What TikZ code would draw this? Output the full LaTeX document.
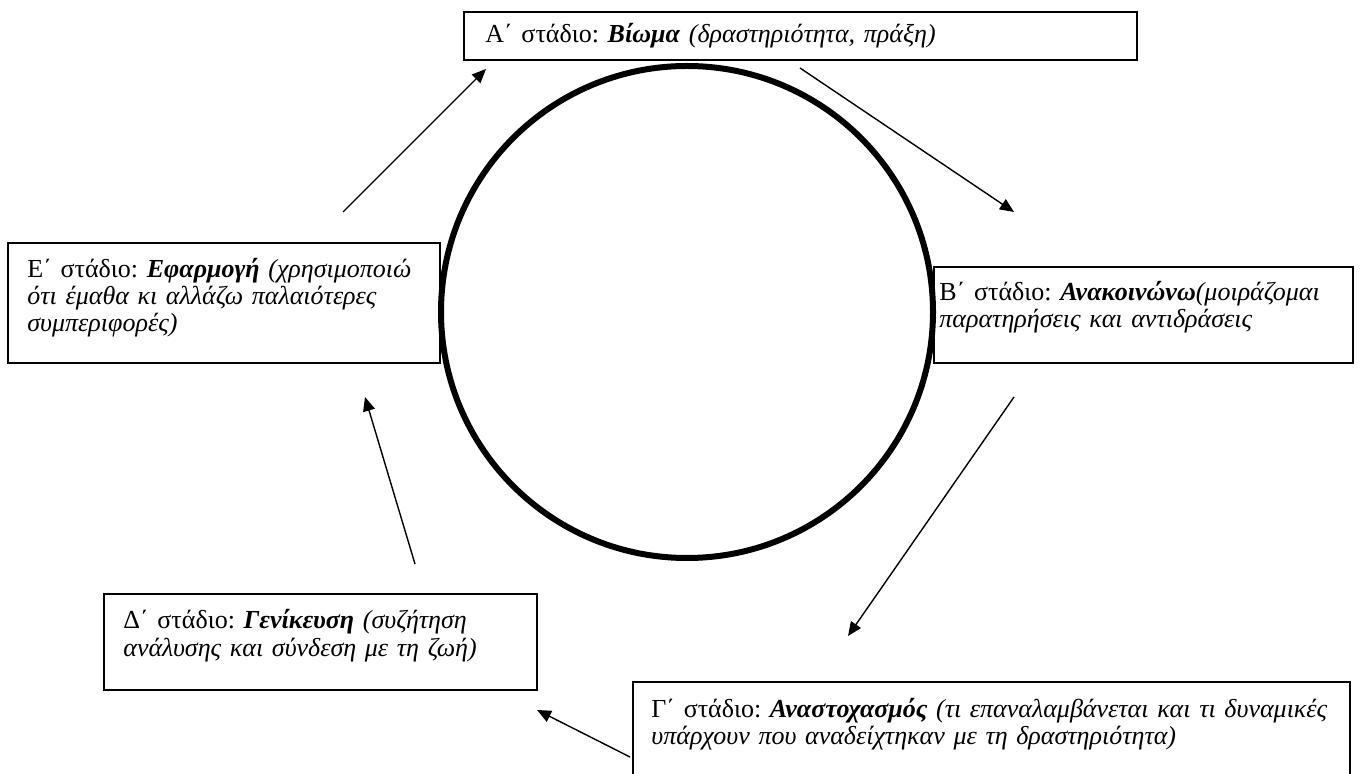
\documentclass[tikz,border=0pt]{standalone}
\usepackage{fontspec}
\setmainfont{Liberation Serif}
\usetikzlibrary{arrows.meta}
\frenchspacing
\begin{document}
\begin{tikzpicture}[x=0.5pt,y=-0.5pt,>={Triangle[length=7pt,width=6pt]},
  stagebox/.style={draw,line width=1pt,anchor=north west,inner sep=0pt},
  stagetxt/.style={anchor=base west,inner sep=0pt,text width=400pt,align=left,font=\fontsize{13}{13.5}\selectfont},
  flow/.style={->,line width=0.7pt}]
\path[use as bounding box,clip] (0,0) rectangle (1360,774);
% stage boxes
\node[stagebox,minimum width=336.5pt,minimum height=24pt] (boxA) at (463,11) {};
\node[stagebox,minimum width=209.5pt,minimum height=48pt] (boxB) at (933,266) {};
\node[stagebox,minimum width=358.5pt,minimum height=60pt] (boxC) at (632,681) {};
\node[stagebox,minimum width=216.5pt,minimum height=48pt] (boxD) at (103,593) {};
\node[stagebox,minimum width=216pt,minimum height=60pt] (boxE) at (7,242) {};
% stage texts
\node[stagetxt] (txtA) at (485,43) {Α΄ στάδιο: \textbf{\textit{Βίωμα}} \textit{(δραστηριότητα, πράξη)}};
\node[stagetxt] (txtB) at (939,301) {Β΄ στάδιο: \textbf{\textit{Ανακοινώνω}}\textit{(μοιράζομαι}\\ \textit{παρατηρήσεις και αντιδράσεις}};
\node[stagetxt] (txtC) at (651,717) {Γ΄ στάδιο: \textbf{\textit{Αναστοχασμός}} \textit{(τι επαναλαμβάνεται και τι δυναμικές}\\ \textit{υπάρχουν που αναδείχτηκαν με τη δραστηριότητα)}};
\node[stagetxt] (txtD) at (123,629) {Δ΄ στάδιο: \textbf{\textit{Γενίκευση}} \textit{(συζήτηση}\\ \textit{ανάλυσης και σύνδεση με τη ζωή)}};
\node[stagetxt] (txtE) at (27,278) {Ε΄ στάδιο: \textbf{\textit{Εφαρμογή}} \textit{(χρησιμοποιώ}\\ \textit{ότι έμαθα κι αλλάζω παλαιότερες}\\ \textit{συμπεριφορές)}};
% the cycle
\node[draw,circle,line width=3pt,minimum size=246pt,inner sep=0pt] (cycle) at (687,312) {};
% arrows between the stages
\coordinate (eTail) at (343,212); \coordinate (aHead) at (486,69);
\coordinate (aTail) at (800,68);  \coordinate (bHead) at (1014,212);
\coordinate (bTail) at (1014,397); \coordinate (cHead) at (848,636);
\coordinate (cTail) at (630,757); \coordinate (dHead) at (537,710);
\coordinate (dTail) at (415,564); \coordinate (eHead) at (365,397);
\foreach \A/\B in {eTail/aHead,aTail/bHead,bTail/cHead,cTail/dHead,dTail/eHead}{\draw[flow] (\A) -- (\B);}
\end{tikzpicture}
\end{document}
